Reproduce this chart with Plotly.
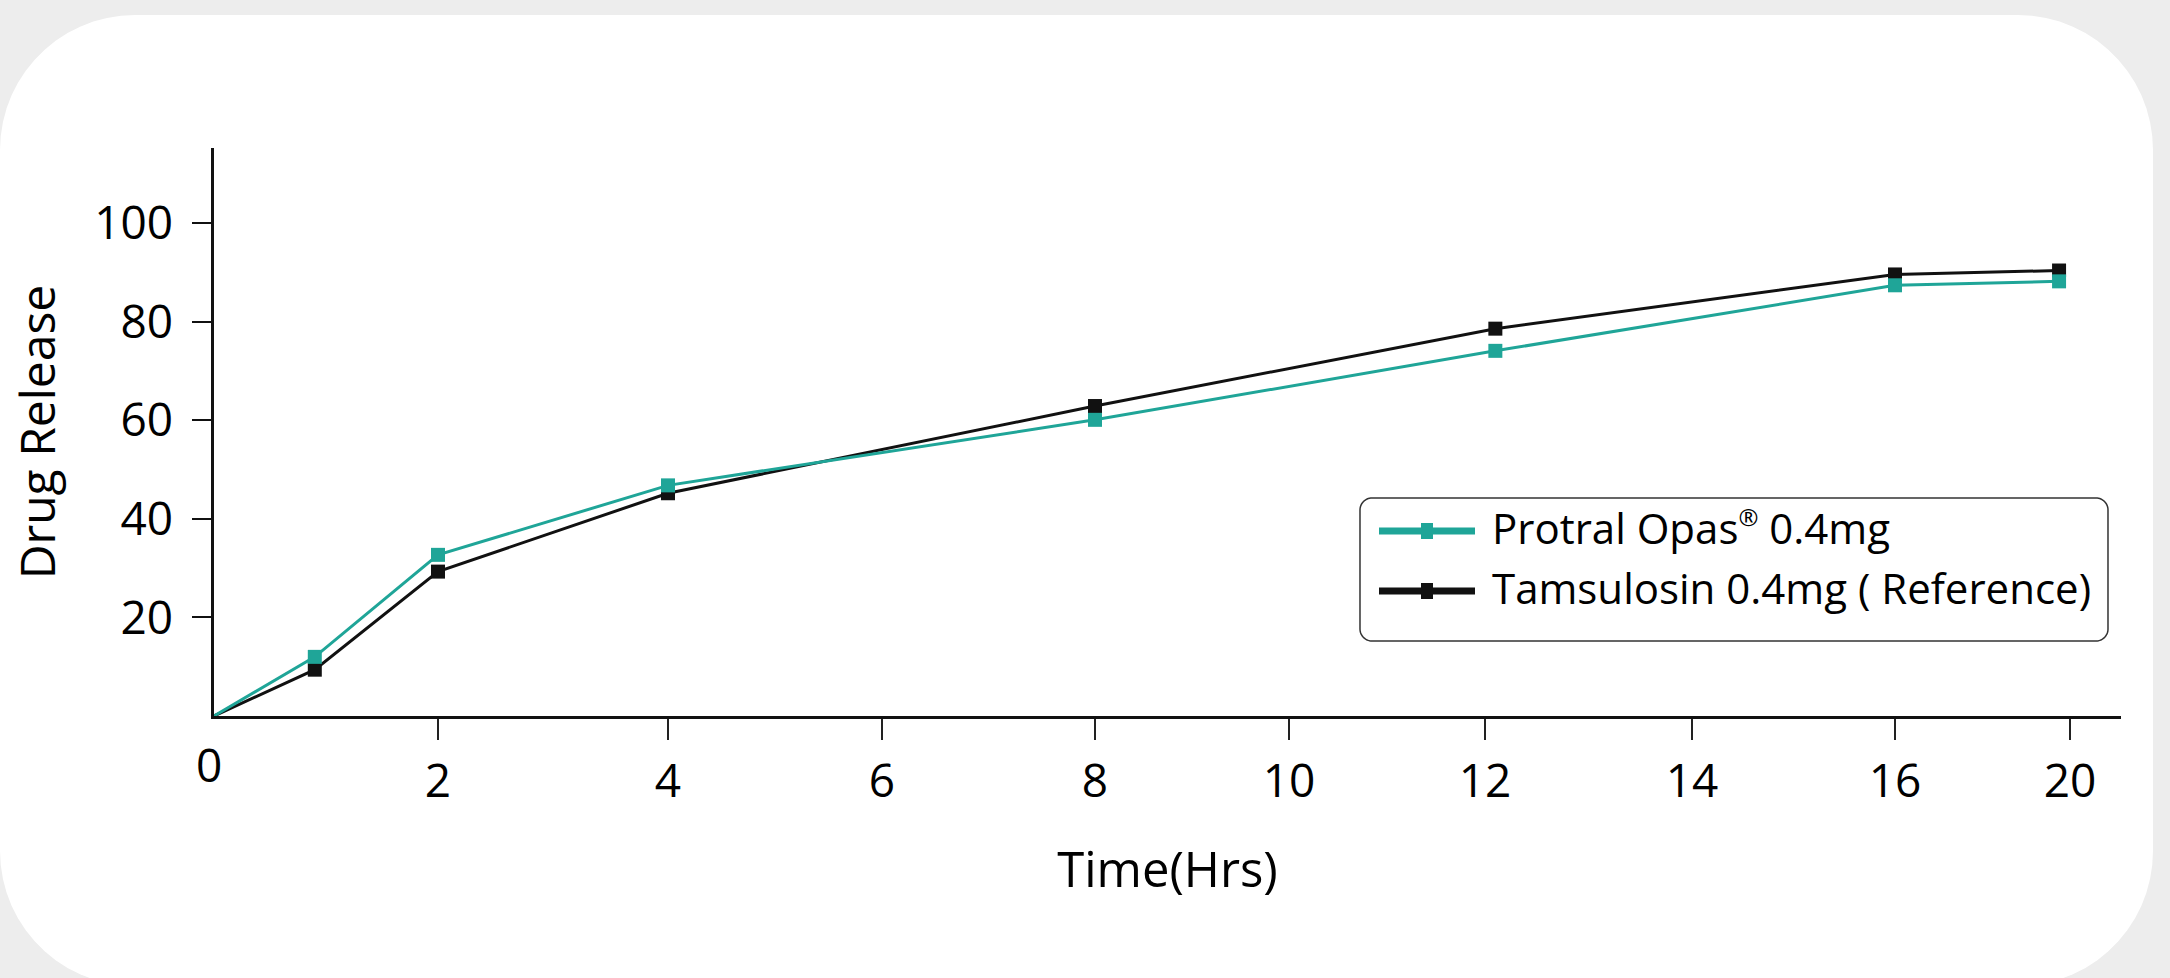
import numpy as np
import plotly.graph_objects as go

# ---------------- data ----------------
time_hrs = [0, 0.9, 2, 4, 8, 12.1, 16, 19.75]
protral_opas = [0, 12.0, 32.7, 46.8, 60.1, 74.1, 87.4, 88.2]
tamsulosin_ref = [0, 9.4, 29.3, 45.2, 62.9, 78.6, 89.6, 90.4]
x_tick_labels = [0, 2, 4, 6, 8, 10, 12, 14, 16, 20]
y_tick_labels = [20, 40, 60, 80, 100]
series_names = ["Protral Opas<sup><span style='font-size:24px'>®</span></sup> 0.4mg",
                "Tamsulosin 0.4mg ( Reference)"]
x_title = "Time(Hrs)"
y_title = "Drug Release"

# ---------------- layout / scales ----------------
W, H = 2170, 978
ML, MR, MT, MB = 214, 49, 148, 262
PW, PH = W - ML - MR, H - MT - MB
# The source's time axis is hand-spaced (not proportional to hours):
# position of each labelled tick along the axis, in px from the origin.
X_TICK_POS = [0, 224, 454, 668, 881, 1075, 1271, 1478, 1681, 1856]
Y_PX_PER_UNIT = 4.928
Y_MAX = PH / Y_PX_PER_UNIT

TEAL = "#1fa598"
BLACK = "#111111"
FONT = "Open Sans"


def xscale(t):
    return np.interp(t, x_tick_labels, X_TICK_POS)


def px(x):
    return (x - ML) / PW


def py(y):
    return (H - MB - y) / PH


def rounded_rect_path(x0, y0, x1, y1, r, n=16):
    pts = []
    corners = [(x1 - r, y0 + r, -90, 0), (x1 - r, y1 - r, 0, 90),
               (x0 + r, y1 - r, 90, 180), (x0 + r, y0 + r, 180, 270)]
    for cx, cy, a0, a1 in corners:
        for a in np.linspace(a0, a1, n):
            rad = np.radians(a)
            pts.append((cx + r * np.cos(rad), cy + r * np.sin(rad)))
    return "M " + " L ".join(f"{px(x):.5f},{py(y):.5f}" for x, y in pts) + " Z"


# no marker is drawn at the origin in the source
marker_sizes = [0 if t == 0 else 14 for t in time_hrs]

fig = go.Figure()
fig.add_trace(go.Scatter(
    x=xscale(time_hrs), y=tamsulosin_ref, name="Tamsulosin 0.4mg ( Reference)",
    mode="lines+markers", line=dict(color=BLACK, width=3),
    marker=dict(symbol="square", size=marker_sizes, color=BLACK, opacity=1,
                line=dict(width=0)), cliponaxis=False))
fig.add_trace(go.Scatter(
    x=xscale(time_hrs), y=protral_opas, name="Protral Opas® 0.4mg",
    mode="lines+markers", line=dict(color=TEAL, width=3),
    marker=dict(symbol="square", size=marker_sizes, color=TEAL, opacity=1,
                line=dict(width=0)), cliponaxis=False))

shapes = [
    dict(type="path", xref="paper", yref="paper", layer="below",
         path=rounded_rect_path(0, 15, 2153, 986, 135),
         fillcolor="white", line=dict(width=0)),
    # legend frame
    dict(type="path", xref="paper", yref="paper", layer="above",
         path=rounded_rect_path(1360, 498, 2108, 641, 12),
         fillcolor="rgba(0,0,0,0)", line=dict(color="#333333", width=1.5)),
]
annotations = [
    dict(text="0", x=px(208.5), y=py(764), xref="paper", yref="paper",
         xanchor="center", yanchor="middle", showarrow=False,
         font=dict(family=FONT, size=46, color="black")),
]
legend_rows = [(series_names[0], TEAL, 531), (series_names[1], BLACK, 591)]
for name, col, yy in legend_rows:
    shapes.append(dict(type="line", xref="paper", yref="paper",
                       x0=px(1379), x1=px(1475), y0=py(yy), y1=py(yy),
                       line=dict(color=col, width=7)))
    shapes.append(dict(type="rect", xref="paper", yref="paper",
                       x0=px(1421), x1=px(1433), y0=py(yy - 8), y1=py(yy + 8),
                       fillcolor=col, line=dict(width=0)))
    annotations.append(dict(text=name, x=px(1490), y=py(yy - 4), xref="paper", yref="paper",
                            xanchor="left", yanchor="middle", showarrow=False,
                            font=dict(family=FONT, size=42, color="black")))

fig.update_layout(
    width=W, height=H, autosize=False,
    margin=dict(l=ML, r=MR, t=MT, b=MB, pad=0),
    paper_bgcolor="#ededed", plot_bgcolor="rgba(0,0,0,0)",
    showlegend=False,
    font=dict(family=FONT, color="black"),
    shapes=shapes, annotations=annotations,
    xaxis=dict(range=[0, PW], tickvals=xscale(x_tick_labels[1:]),
               ticktext=[str(v) for v in x_tick_labels[1:]],
               ticks="outside", ticklen=21, tickwidth=1.5, tickcolor="#222222",
               showline=True, linewidth=3, linecolor=BLACK,
               showgrid=False, zeroline=False, ticklabelstandoff=2,
               tickfont=dict(family=FONT, size=46, color="black"),
               title=dict(text=x_title, font=dict(family=FONT, size=49, color="black"),
                          standoff=44)),
    yaxis=dict(range=[0, Y_MAX], tickvals=y_tick_labels,
               ticks="outside", ticklen=19, tickwidth=2, tickcolor=BLACK,
               showline=True, linewidth=2.5, linecolor=BLACK,
               showgrid=False, zeroline=False, ticklabelstandoff=10,
               tickfont=dict(family=FONT, size=46, color="black"),
               title=dict(text=y_title, font=dict(family=FONT, size=48, color="black"),
                          standoff=24)),
)

fig.write_html("out.html", config={"displayModeBar": False},
               post_script="document.body.style.margin='0px';document.body.style.overflow='hidden';")
